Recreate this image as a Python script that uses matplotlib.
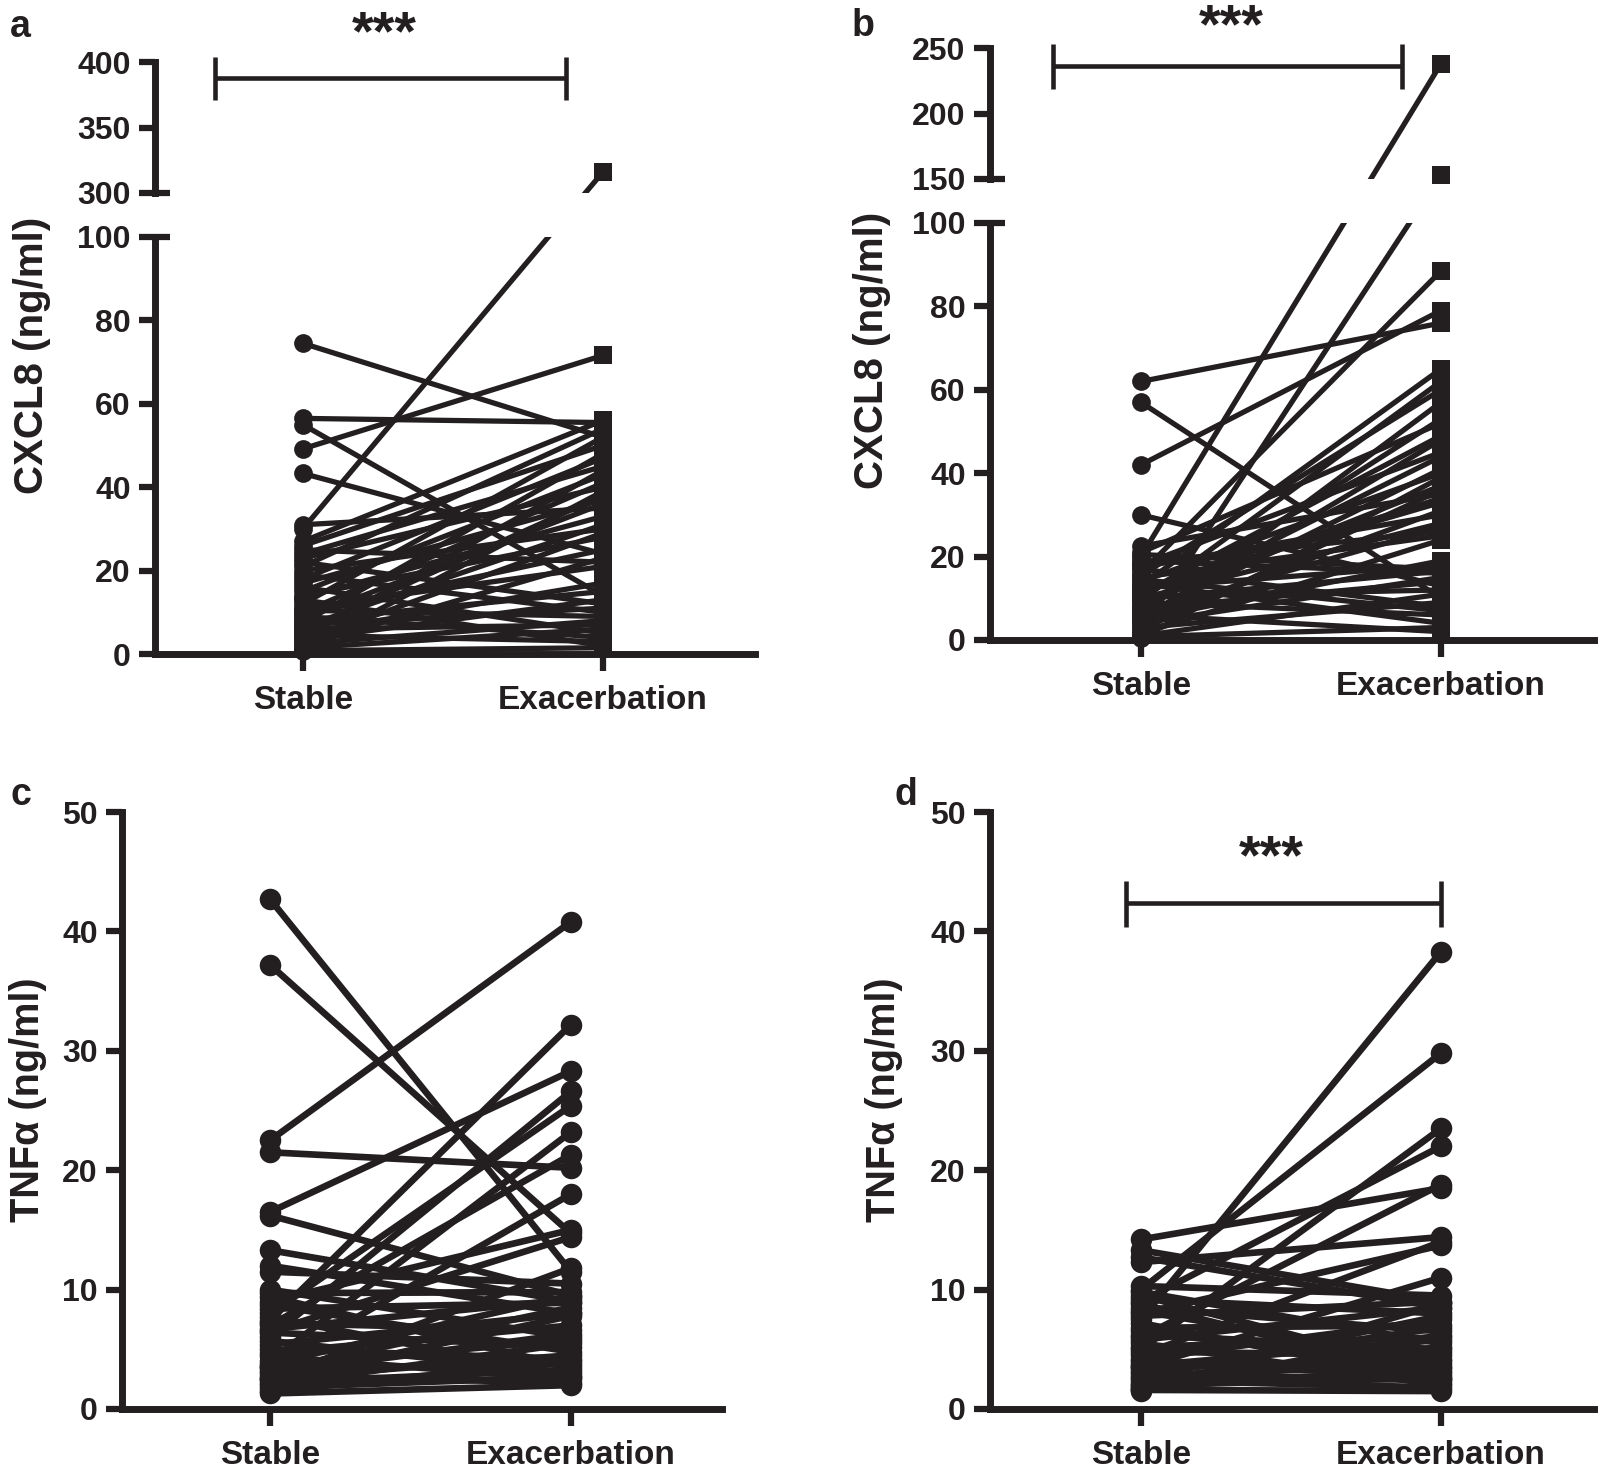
import matplotlib
matplotlib.use("Agg")
import matplotlib.pyplot as plt
import numpy as np

plt.rcParams['font.family'] = ['Liberation Sans', 'DejaVu Sans']
plt.rcParams['font.weight'] = 'bold'

INK = '#231f20'
groups = ['Stable', 'Exacerbation']

# panel a: CXCL8, paired samples (ng/ml)
stable_a = [74.5, 56.5, 55.0, 49.2, 43.3, 31.0, 30.0, 27.0, 26.0, 25.0, 24.0, 23.0,
            22.0, 21.0, 20.0, 19.0, 18.0, 17.0, 16.0, 15.0, 14.0, 13.5, 13.0, 12.0,
            11.0, 10.5, 10.0, 9.5, 9.0, 8.5, 8.0, 7.5, 7.0, 6.5, 6.0, 5.5, 5.0, 4.5,
            4.0, 3.5, 3.0, 2.5, 2.0, 1.5, 1.0, 0.8]
exac_a = [52.0, 55.5, 14.0, 71.6, 24.0, 35.0, 316.0, 56.0, 50.0, 22.0, 45.0, 40.0,
          12.0, 54.0, 30.0, 10.0, 47.0, 37.0, 5.0, 43.0, 28.0, 33.0, 2.0, 52.0,
          21.0, 9.0, 41.0, 25.0, 4.0, 36.0, 15.0, 48.0, 11.0, 31.0, 7.0, 38.0, 17.0, 3.0,
          44.0, 13.0, 29.0, 8.0, 23.0, 6.0, 39.0, 1.5]

# panel b: CXCL8, second cohort (ng/ml)
stable_b = [62.0, 57.0, 42.0, 30.0, 22.5, 21.0, 20.0, 19.0, 18.0, 17.5, 17.0, 16.0,
            15.5, 15.0, 14.0, 13.5, 13.0, 12.5, 12.0, 11.0, 10.5, 10.0, 9.5, 9.0,
            8.5, 8.0, 7.5, 7.0, 6.5, 6.0, 5.5, 5.0, 4.5, 4.0, 3.5, 3.0, 2.5, 2.0,
            1.5, 1.0, 0.8, 0.5, 20.5, 18.5, 14.5, 11.5, 9.8, 5.2]
exac_b = [76.0, 10.0, 79.0, 13.0, 35.0, 52.0, 238.0, 16.0, 45.0, 30.0, 8.0, 88.5,
          60.0, 25.0, 40.0, 4.0, 65.0, 18.0, 33.0, 49.0, 12.0, 28.0, 62.0, 6.0,
          37.0, 44.0, 14.0, 53.0, 27.0, 2.0, 41.0, 19.0, 31.0, 15.0, 57.0, 9.0, 36.0, 153.0,
          24.0, 11.0, 3.0, 39.0, 17.0, 26.0, 7.0, 34.0, 16.5, 48.0]

# panel c: TNFa (ng/ml)
stable_c = [42.7, 37.2, 22.5, 21.5, 16.5, 16.2, 13.3, 12.0, 11.5,
            7.4, 6.0, 8.0, 4.0, 7.0, 3.5, 9.0, 6.5, 2.5,
            10.0, 9.7, 9.4, 8.7, 8.4, 7.7, 7.2, 6.7, 6.4, 5.7, 5.4, 5.0, 4.7, 4.4,
            3.8, 3.6, 3.4, 3.2, 3.0, 2.8, 2.6, 2.4, 2.2, 2.0, 1.8, 1.5, 1.3]
exac_c = [11.5, 14.7, 40.8, 20.2, 28.3, 9.5, 9.0, 8.0, 10.5,
          32.2, 26.6, 25.4, 23.2, 21.3, 18.0, 15.0, 14.4, 11.8,
          6.0, 9.8, 3.5, 4.8, 8.9, 2.8, 6.6, 9.2, 5.2, 3.0, 8.0, 4.2, 7.0, 2.5,
          9.5, 5.8, 3.8, 8.5, 6.3, 2.2, 4.5, 7.8, 3.3, 5.5, 2.7, 4.0, 2.0]

# panel d: TNFa, second cohort (ng/ml)
stable_d = [7.5, 10.0, 14.2, 13.3, 12.7, 12.3, 5.0, 9.0, 6.0, 8.0, 3.5, 10.3, 4.5,
            9.8, 9.5, 9.2, 8.8, 8.5, 8.2, 7.8, 7.2, 6.8, 6.5, 6.2, 5.8, 5.5, 5.2,
            4.8, 4.2, 4.0, 3.8, 3.6, 3.4, 3.2, 3.0, 2.8, 2.6, 2.4, 2.2, 2.0, 1.9,
            1.8, 1.7, 1.6, 1.5]
exac_d = [38.3, 29.8, 18.5, 9.0, 8.5, 14.4, 23.5, 22.0, 18.8, 13.7, 11.0, 9.5, 14.0,
          5.5, 3.0, 8.0, 2.5, 6.5, 4.0, 9.0, 2.2, 7.0, 3.5, 5.0, 8.5, 2.0, 6.0,
          4.5, 7.5, 3.2, 2.8, 5.8, 4.2, 6.8, 2.4, 3.8, 7.8, 1.8, 5.2, 2.6, 4.8,
          3.4, 6.2, 1.5, 8.8]

FIG_W, FIG_H = 1600, 1472
fig = plt.figure(figsize=(16, 14.72), dpi=100)


def box(left, top, right, bottom):
    # pixel box -> figure fraction rect
    return [left / FIG_W, 1 - bottom / FIG_H, (right - left) / FIG_W, (bottom - top) / FIG_H]


def broken_scale(lo_top, hi_bot, k1, gap, k2):
    # piecewise linear y mapping so lines stay straight across the axis break
    b1 = lo_top * k1
    b2 = b1 + gap
    kg = gap / (hi_bot - lo_top)

    def fwd(y):
        y = np.asarray(y, dtype=float)
        return np.where(y <= lo_top, y * k1,
                        np.where(y >= hi_bot, b2 + (y - hi_bot) * k2, b1 + (y - lo_top) * kg))

    def inv(v):
        v = np.asarray(v, dtype=float)
        return np.where(v <= b1, v / k1,
                        np.where(v >= b2, hi_bot + (v - b2) / k2, lo_top + (v - b1) / kg))
    return fwd, inv


def style(ax, ticks, xaxis=True):
    ax.spines[['top', 'right']].set_visible(False)
    for s in ('left', 'bottom'):
        ax.spines[s].set_linewidth(5)
        ax.spines[s].set_color(INK)
    ax.set_yticks(ticks)
    ax.set_yticklabels([str(t) for t in ticks])
    ax.tick_params(axis='y', length=11.5, width=4.5, color=INK, labelsize=23,
                   labelcolor=INK, pad=6)
    if xaxis:
        ax.set_xticks([0, 1])
        ax.set_xticklabels(groups)
        ax.tick_params(axis='x', length=12, width=4.5, color=INK, labelsize=24,
                       labelcolor=INK, pad=10)
    else:
        ax.spines['bottom'].set_visible(False)
        ax.tick_params(axis='x', bottom=False, labelbottom=False)


def draw_pairs(ax, s, e, lw, shape, ms_o, ms_e, lo, hi):
    for a, b in zip(s, e):
        ax.plot([0, 1], [a, b], color=INK, lw=lw, solid_capstyle='round', zorder=2)
    s = np.asarray(s)
    e = np.asarray(e)
    sm = (s >= lo) & (s <= hi)
    em = (e >= lo) & (e <= hi)
    ax.plot(np.zeros(sm.sum()), s[sm], 'o', ms=ms_o, color=INK, mew=0, clip_on=False, zorder=3)
    ax.plot(np.ones(em.sum()), e[em], shape, ms=ms_e, color=INK, mew=0, clip_on=False, zorder=3)


def sig_bar(ax, x0, x1, y, y_lo, y_hi, tx, ty):
    kw = dict(color=INK, lw=3.3, clip_on=False, solid_capstyle='butt')
    ax.plot([x0, x1], [y, y], **kw)
    ax.plot([x0, x0], [y_lo, y_hi], **kw)
    ax.plot([x1, x1], [y_lo, y_hi], **kw)
    ax.text(tx, ty, '***', ha='center', va='baseline', fontsize=40, color=INK,
            fontweight='bold', clip_on=False)


def broken_panel(px, top_lo, bot_lo, top_hi, bot_hi, low_max, high_min, high_max,
                 xlim, s, e, hi_ticks):
    left, right = px
    k1 = (bot_lo - top_lo) / low_max
    k2 = (bot_hi - top_hi) / (high_max - high_min)
    gap = top_lo - bot_hi
    fwd, inv = broken_scale(low_max, high_min, k1, gap, k2)
    lo_ax = fig.add_axes(box(left, top_lo, right, bot_lo))
    hi_ax = fig.add_axes(box(left, top_hi, right, bot_hi))
    for ax, (y0, y1) in ((lo_ax, (0, low_max)), (hi_ax, (high_min, high_max))):
        ax.set_yscale('function', functions=(fwd, inv))
        ax.set_ylim(y0, y1)
        ax.set_xlim(*xlim)
        ax.patch.set_visible(False)
        draw_pairs(ax, s, e, 3.8, 's', 13.5, 12.5, y0, y1)
    style(lo_ax, list(range(0, low_max + 1, 20)))
    style(hi_ax, hi_ticks, xaxis=False)
    # break marks crossing the spine
    lo_ax.axhline(low_max, xmin=0, xmax=0.025, color=INK, lw=4.5, clip_on=False,
                  solid_capstyle='butt')
    hi_ax.axhline(high_min, xmin=0, xmax=0.025, color=INK, lw=4.5, clip_on=False,
                  solid_capstyle='butt')
    return lo_ax, hi_ax


# panel a
a_lo, a_hi = broken_panel((155, 755), 237, 654, 62, 193, 100, 300, 400,
                          (-0.493, 1.507), stable_a, exac_a, [300, 350, 400])
sig_bar(a_hi, -0.293, 0.877, 388, 371, 404, 0.27, 409.5)

# panel b
b_lo, b_hi = broken_panel((990, 1594), 223, 640, 48, 179, 100, 150, 250,
                          (-0.503, 1.51), stable_b, exac_b, [150, 200, 250])
sig_bar(b_hi, -0.293, 0.87, 236, 219, 253, 0.30, 254.5)

# panels c and d
for rect, xlim, s, e in ((box(122, 812, 722, 1409), (-0.492, 1.502), stable_c, exac_c),
                         (box(990, 812, 1594, 1409), (-0.503, 1.51), stable_d, exac_d)):
    ax = fig.add_axes(rect)
    ax.set_xlim(*xlim)
    ax.set_ylim(0, 50)
    draw_pairs(ax, s, e, 4.8, 'o', 15.5, 15.5, 0, 50)
    style(ax, [0, 10, 20, 30, 40, 50])
    if s is stable_d:
        sig_bar(ax, -0.05, 1.0, 42.4, 40.4, 44.2, 0.433, 44.9)

# axis titles and panel letters
fig.text(32 / FIG_W, 1 - 355 / FIG_H, 'CXCL8 (ng/ml)', rotation=90, ha='center',
         va='center', fontsize=29, color=INK)
fig.text(872 / FIG_W, 1 - 350 / FIG_H, 'CXCL8 (ng/ml)', rotation=90, ha='center',
         va='center', fontsize=29, color=INK)
fig.text(28 / FIG_W, 1 - 1100 / FIG_H, 'TNFα (ng/ml)', rotation=90, ha='center',
         va='center', fontsize=28.5, color=INK)
fig.text(884 / FIG_W, 1 - 1100 / FIG_H, 'TNFα (ng/ml)', rotation=90, ha='center',
         va='center', fontsize=28.5, color=INK)
for letter, x, y in (('a', 10, 37), ('b', 852, 36), ('c', 11, 805), ('d', 894, 805)):
    fig.text(x / FIG_W, 1 - y / FIG_H, letter, ha='left', va='baseline',
             fontsize=27, color=INK)

fig.savefig('out.png', dpi=100)
